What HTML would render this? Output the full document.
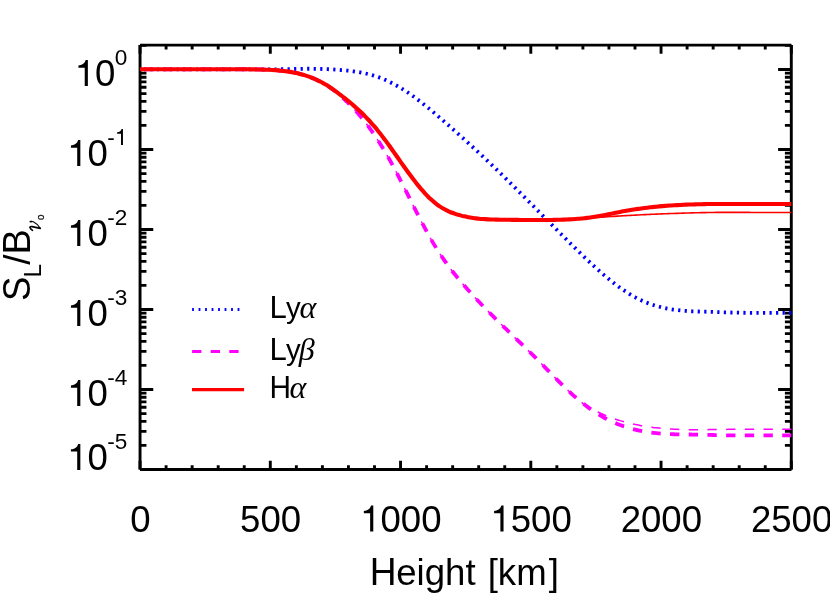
<!DOCTYPE html>
<html><head><meta charset="utf-8"><title>plot</title>
<style>
html,body{margin:0;padding:0;background:#fff;}
svg{display:block;}
text{font-family:"Liberation Sans",sans-serif;fill:#000;}
.tx{opacity:0.999;}
.it{font-family:"Liberation Serif",serif;font-style:italic;}
</style></head><body>
<svg width="830" height="593" viewBox="0 0 830 593">
<rect width="830" height="593" fill="#fff"/>
<g fill="none" stroke="#000" stroke-width="2.90">
<path d="M140.05 469.55v-8.70M140.05 45.10v8.70M166.10 469.55v-4.30M166.10 45.10v4.30M192.15 469.55v-4.30M192.15 45.10v4.30M218.20 469.55v-4.30M218.20 45.10v4.30M244.25 469.55v-4.30M244.25 45.10v4.30M270.30 469.55v-8.70M270.30 45.10v8.70M296.35 469.55v-4.30M296.35 45.10v4.30M322.40 469.55v-4.30M322.40 45.10v4.30M348.45 469.55v-4.30M348.45 45.10v4.30M374.50 469.55v-4.30M374.50 45.10v4.30M400.55 469.55v-8.70M400.55 45.10v8.70M426.60 469.55v-4.30M426.60 45.10v4.30M452.65 469.55v-4.30M452.65 45.10v4.30M478.70 469.55v-4.30M478.70 45.10v4.30M504.75 469.55v-4.30M504.75 45.10v4.30M530.80 469.55v-8.70M530.80 45.10v8.70M556.85 469.55v-4.30M556.85 45.10v4.30M582.90 469.55v-4.30M582.90 45.10v4.30M608.95 469.55v-4.30M608.95 45.10v4.30M635.00 469.55v-4.30M635.00 45.10v4.30M661.05 469.55v-8.70M661.05 45.10v8.70M687.10 469.55v-4.30M687.10 45.10v4.30M713.15 469.55v-4.30M713.15 45.10v4.30M739.20 469.55v-4.30M739.20 45.10v4.30M765.25 469.55v-4.30M765.25 45.10v4.30M791.30 469.55v-8.70M791.30 45.10v8.70M140.05 469.50h13.20M791.30 469.50h-13.20M140.05 445.42h6.40M791.30 445.42h-6.40M140.05 431.33h6.40M791.30 431.33h-6.40M140.05 421.34h6.40M791.30 421.34h-6.40M140.05 413.58h6.40M791.30 413.58h-6.40M140.05 407.25h6.40M791.30 407.25h-6.40M140.05 401.89h6.40M791.30 401.89h-6.40M140.05 397.25h6.40M791.30 397.25h-6.40M140.05 393.16h6.40M791.30 393.16h-6.40M140.05 389.50h13.20M791.30 389.50h-13.20M140.05 365.42h6.40M791.30 365.42h-6.40M140.05 351.33h6.40M791.30 351.33h-6.40M140.05 341.34h6.40M791.30 341.34h-6.40M140.05 333.58h6.40M791.30 333.58h-6.40M140.05 327.25h6.40M791.30 327.25h-6.40M140.05 321.89h6.40M791.30 321.89h-6.40M140.05 317.25h6.40M791.30 317.25h-6.40M140.05 313.16h6.40M791.30 313.16h-6.40M140.05 309.50h13.20M791.30 309.50h-13.20M140.05 285.42h6.40M791.30 285.42h-6.40M140.05 271.33h6.40M791.30 271.33h-6.40M140.05 261.34h6.40M791.30 261.34h-6.40M140.05 253.58h6.40M791.30 253.58h-6.40M140.05 247.25h6.40M791.30 247.25h-6.40M140.05 241.89h6.40M791.30 241.89h-6.40M140.05 237.25h6.40M791.30 237.25h-6.40M140.05 233.16h6.40M791.30 233.16h-6.40M140.05 229.50h13.20M791.30 229.50h-13.20M140.05 205.42h6.40M791.30 205.42h-6.40M140.05 191.33h6.40M791.30 191.33h-6.40M140.05 181.34h6.40M791.30 181.34h-6.40M140.05 173.58h6.40M791.30 173.58h-6.40M140.05 167.25h6.40M791.30 167.25h-6.40M140.05 161.89h6.40M791.30 161.89h-6.40M140.05 157.25h6.40M791.30 157.25h-6.40M140.05 153.16h6.40M791.30 153.16h-6.40M140.05 149.50h13.20M791.30 149.50h-13.20M140.05 125.42h6.40M791.30 125.42h-6.40M140.05 111.33h6.40M791.30 111.33h-6.40M140.05 101.34h6.40M791.30 101.34h-6.40M140.05 93.58h6.40M791.30 93.58h-6.40M140.05 87.25h6.40M791.30 87.25h-6.40M140.05 81.89h6.40M791.30 81.89h-6.40M140.05 77.25h6.40M791.30 77.25h-6.40M140.05 73.16h6.40M791.30 73.16h-6.40M140.05 69.50h13.20M791.30 69.50h-13.20M140.05 45.42h6.40M791.30 45.42h-6.40"/>
<path d="M140.05 45.10H791.30M140.05 469.55H791.30M140.05 45.10V469.55M791.30 45.10V469.55"/>
</g>
<g fill="none" stroke-linecap="butt" stroke-linejoin="round">
<path d="M791.30 312.85C790.80 312.85 789.30 312.85 788.30 312.85C787.30 312.85 786.30 312.85 785.30 312.85C784.30 312.85 783.30 312.85 782.30 312.85C781.30 312.85 780.30 312.85 779.30 312.85C778.30 312.85 777.29 312.85 776.29 312.85C775.29 312.85 774.29 312.85 773.29 312.85C772.29 312.85 771.29 312.85 770.29 312.85C769.29 312.85 768.29 312.85 767.29 312.85C766.29 312.85 765.29 312.85 764.29 312.85C763.29 312.85 762.29 312.85 761.29 312.85C760.29 312.85 759.29 312.85 758.29 312.85C757.29 312.85 756.29 312.85 755.29 312.84C754.29 312.84 753.29 312.84 752.29 312.83C751.28 312.83 750.28 312.82 749.28 312.81C748.28 312.81 747.28 312.80 746.28 312.79C745.28 312.78 744.28 312.76 743.28 312.75C742.28 312.74 741.28 312.72 740.28 312.71C739.28 312.69 738.28 312.67 737.28 312.65C736.28 312.63 735.28 312.61 734.28 312.59C733.28 312.56 732.28 312.54 731.28 312.51C730.28 312.48 729.28 312.46 728.28 312.43C727.28 312.40 726.28 312.37 725.27 312.33C724.27 312.30 723.27 312.27 722.27 312.24C721.27 312.21 720.27 312.17 719.27 312.14C718.27 312.10 717.27 312.07 716.27 312.04C715.27 312.00 714.27 311.97 713.27 311.94C712.27 311.91 711.27 311.88 710.27 311.85C709.27 311.82 708.27 311.79 707.27 311.76C706.27 311.74 705.27 311.71 704.27 311.68C703.27 311.65 702.27 311.63 701.27 311.60C700.27 311.58 699.26 311.55 698.26 311.52C697.26 311.49 696.26 311.46 695.26 311.42C694.26 311.38 693.26 311.34 692.26 311.30C691.26 311.25 690.26 311.20 689.26 311.14C688.26 311.08 687.26 311.02 686.26 310.95C685.26 310.87 684.26 310.80 683.26 310.71C682.26 310.63 681.26 310.53 680.26 310.43C679.26 310.33 678.26 310.22 677.26 310.10C676.26 309.98 675.26 309.85 674.26 309.71C673.25 309.58 672.25 309.43 671.25 309.27C670.25 309.11 669.25 308.94 668.25 308.75C667.25 308.57 666.25 308.38 665.25 308.17C664.25 307.96 663.25 307.74 662.25 307.51C661.25 307.27 660.25 307.03 659.25 306.77C658.25 306.51 657.25 306.23 656.25 305.94C655.25 305.65 654.25 305.34 653.25 305.02C652.25 304.70 651.25 304.36 650.25 304.01C649.25 303.65 648.25 303.28 647.24 302.89C646.24 302.50 645.24 302.10 644.24 301.67C643.24 301.24 642.24 300.80 641.24 300.34C640.24 299.87 639.24 299.39 638.24 298.89C637.24 298.39 636.24 297.86 635.24 297.32C634.24 296.78 633.24 296.22 632.24 295.64C631.24 295.06 630.24 294.46 629.24 293.84C628.24 293.23 627.24 292.59 626.24 291.94C625.24 291.29 624.24 290.63 623.24 289.94C622.24 289.26 621.23 288.56 620.23 287.84C619.23 287.13 618.23 286.40 617.23 285.66C616.23 284.91 615.23 284.15 614.23 283.38C613.23 282.61 612.23 281.82 611.23 281.02C610.23 280.22 609.23 279.41 608.23 278.59C607.23 277.77 606.23 276.93 605.23 276.08C604.23 275.24 603.23 274.38 602.23 273.51C601.23 272.65 600.23 271.77 599.23 270.88C598.23 269.99 597.23 269.10 596.23 268.19C595.22 267.28 594.22 266.37 593.22 265.45C592.22 264.53 591.22 263.60 590.22 262.66C589.22 261.72 588.22 260.78 587.22 259.83C586.22 258.88 585.22 257.92 584.22 256.96C583.22 256.00 582.22 255.03 581.22 254.06C580.22 253.09 579.22 252.11 578.22 251.13C577.22 250.15 576.22 249.17 575.22 248.18C574.22 247.20 573.22 246.21 572.22 245.22C571.22 244.23 570.22 243.23 569.21 242.24C568.21 241.24 567.21 240.25 566.21 239.25C565.21 238.25 564.21 237.25 563.21 236.25C562.21 235.24 561.21 234.24 560.21 233.24C559.21 232.23 558.21 231.23 557.21 230.22C556.21 229.21 555.21 228.21 554.21 227.20C553.21 226.19 552.21 225.18 551.21 224.17C550.21 223.16 549.21 222.15 548.21 221.14C547.21 220.13 546.21 219.12 545.21 218.10C544.21 217.09 543.20 216.08 542.20 215.07C541.20 214.06 540.20 213.04 539.20 212.03C538.20 211.02 537.20 210.01 536.20 209.00C535.20 207.98 534.20 206.97 533.20 205.96C532.20 204.95 531.20 203.94 530.20 202.93C529.20 201.92 528.20 200.91 527.20 199.91C526.20 198.90 525.20 197.89 524.20 196.89C523.20 195.88 522.20 194.88 521.20 193.87C520.20 192.87 519.20 191.87 518.20 190.87C517.19 189.87 516.19 188.87 515.19 187.87C514.19 186.87 513.19 185.88 512.19 184.88C511.19 183.89 510.19 182.90 509.19 181.91C508.19 180.92 507.19 179.93 506.19 178.95C505.19 177.96 504.19 176.98 503.19 176.00C502.19 175.02 501.19 174.04 500.19 173.07C499.19 172.09 498.19 171.12 497.19 170.15C496.19 169.18 495.19 168.21 494.19 167.25C493.19 166.29 492.19 165.33 491.18 164.37C490.18 163.41 489.18 162.46 488.18 161.51C487.18 160.56 486.18 159.61 485.18 158.67C484.18 157.72 483.18 156.78 482.18 155.84C481.18 154.90 480.18 153.97 479.18 153.04C478.18 152.10 477.18 151.18 476.18 150.25C475.18 149.32 474.18 148.40 473.18 147.48C472.18 146.56 471.18 145.64 470.18 144.73C469.18 143.81 468.18 142.90 467.18 141.99C466.18 141.08 465.17 140.17 464.17 139.27C463.17 138.37 462.17 137.47 461.17 136.57C460.17 135.67 459.17 134.77 458.17 133.88C457.17 132.98 456.17 132.09 455.17 131.20C454.17 130.31 453.17 129.43 452.17 128.54C451.17 127.66 450.17 126.78 449.17 125.90C448.17 125.02 447.17 124.14 446.17 123.27C445.17 122.39 444.17 121.52 443.17 120.65C442.17 119.78 441.17 118.91 440.17 118.04C439.16 117.18 438.16 116.31 437.16 115.46C436.16 114.60 435.16 113.75 434.16 112.90C433.16 112.05 432.16 111.21 431.16 110.37C430.16 109.53 429.16 108.70 428.16 107.88C427.16 107.06 426.16 106.24 425.16 105.44C424.16 104.63 423.16 103.83 422.16 103.04C421.16 102.25 420.16 101.47 419.16 100.70C418.16 99.94 417.16 99.18 416.16 98.43C415.16 97.68 414.16 96.95 413.15 96.23C412.15 95.51 411.15 94.80 410.15 94.10C409.15 93.40 408.15 92.72 407.15 92.05C406.15 91.39 405.15 90.73 404.15 90.10C403.15 89.46 402.15 88.84 401.15 88.23C400.15 87.62 399.15 87.03 398.15 86.46C397.15 85.88 396.15 85.32 395.15 84.78C394.15 84.23 393.15 83.70 392.15 83.19C391.15 82.68 390.15 82.18 389.15 81.70C388.15 81.22 387.14 80.76 386.14 80.31C385.14 79.87 384.14 79.44 383.14 79.02C382.14 78.61 381.14 78.22 380.14 77.84C379.14 77.46 378.14 77.10 377.14 76.76C376.14 76.41 375.14 76.09 374.14 75.78C373.14 75.47 372.14 75.17 371.14 74.90C370.14 74.62 369.14 74.35 368.14 74.10C367.14 73.85 366.14 73.62 365.14 73.40C364.14 73.17 363.14 72.96 362.14 72.76C361.13 72.57 360.13 72.38 359.13 72.21C358.13 72.03 357.13 71.87 356.13 71.71C355.13 71.56 354.13 71.42 353.13 71.28C352.13 71.14 351.13 71.02 350.13 70.90C349.13 70.78 348.13 70.67 347.13 70.57C346.13 70.46 345.13 70.36 344.13 70.27C343.13 70.18 342.13 70.10 341.13 70.02C340.13 69.93 339.13 69.86 338.13 69.79C337.13 69.71 336.13 69.65 335.12 69.58C334.12 69.52 333.12 69.46 332.12 69.40C331.12 69.35 330.12 69.30 329.12 69.25C328.12 69.20 327.12 69.16 326.12 69.11C325.12 69.07 324.12 69.04 323.12 69.00C322.12 68.97 321.12 68.94 320.12 68.91C319.12 68.88 318.12 68.86 317.12 68.84C316.12 68.81 315.12 68.79 314.12 68.78C313.12 68.77 312.12 68.76 311.12 68.75C310.12 68.75 309.11 68.75 308.11 68.75C307.11 68.75 306.11 68.76 305.11 68.78C304.11 68.79 303.11 68.80 302.11 68.82C301.11 68.84 300.11 68.86 299.11 68.88C298.11 68.91 297.11 68.93 296.11 68.95C295.11 68.98 294.11 69.00 293.11 69.03C292.11 69.05 291.11 69.07 290.11 69.10C289.11 69.12 288.11 69.14 287.11 69.16C286.11 69.18 285.11 69.19 284.11 69.21C283.10 69.23 282.10 69.24 281.10 69.25C280.10 69.26 279.10 69.27 278.10 69.28C277.10 69.28 276.10 69.29 275.10 69.29C274.10 69.30 273.10 69.30 272.10 69.30C271.10 69.30 270.10 69.30 269.10 69.30C268.10 69.30 267.10 69.30 266.10 69.30C265.10 69.30 264.10 69.30 263.10 69.30C262.10 69.30 261.10 69.30 260.10 69.30C259.10 69.30 258.10 69.30 257.09 69.30C256.09 69.30 255.09 69.30 254.09 69.30C253.09 69.30 252.09 69.30 251.09 69.30C250.09 69.30 249.09 69.30 248.09 69.30C247.09 69.30 246.09 69.30 245.09 69.30C244.09 69.30 243.09 69.30 242.09 69.30C241.09 69.30 240.09 69.30 239.09 69.30C238.09 69.30 237.09 69.30 236.09 69.30C235.09 69.30 234.09 69.30 233.09 69.30C232.09 69.30 231.08 69.30 230.08 69.30C229.08 69.30 228.08 69.30 227.08 69.30C226.08 69.30 225.08 69.30 224.08 69.30C223.08 69.30 222.08 69.30 221.08 69.30C220.08 69.30 219.08 69.30 218.08 69.30C217.08 69.30 216.08 69.30 215.08 69.30C214.08 69.30 213.08 69.30 212.08 69.30C211.08 69.30 210.08 69.30 209.08 69.30C208.08 69.30 207.08 69.30 206.08 69.30C205.07 69.30 204.07 69.30 203.07 69.30C202.07 69.30 201.07 69.30 200.07 69.30C199.07 69.30 198.07 69.30 197.07 69.30C196.07 69.30 195.07 69.30 194.07 69.30C193.07 69.30 192.07 69.30 191.07 69.30C190.07 69.30 189.07 69.30 188.07 69.30C187.07 69.30 186.07 69.30 185.07 69.30C184.07 69.30 183.07 69.30 182.07 69.30C181.07 69.30 180.07 69.30 179.06 69.30C178.06 69.30 177.06 69.30 176.06 69.30C175.06 69.30 174.06 69.30 173.06 69.30C172.06 69.30 171.06 69.30 170.06 69.30C169.06 69.30 168.06 69.30 167.06 69.30C166.06 69.30 165.06 69.30 164.06 69.30C163.06 69.30 162.06 69.30 161.06 69.30C160.06 69.30 159.06 69.30 158.06 69.30C157.06 69.30 156.06 69.30 155.06 69.30C154.06 69.30 153.05 69.30 152.05 69.30C151.05 69.30 150.05 69.30 149.05 69.30C148.05 69.30 147.05 69.30 146.05 69.30C145.05 69.30 144.05 69.30 143.05 69.30C142.05 69.30 140.55 69.30 140.05 69.30" stroke="#0000ff" stroke-width="3.8" stroke-dasharray="2.2 4.33"/>
<path d="M791.30 429.35C790.80 429.35 789.30 429.35 788.30 429.35C787.30 429.35 786.30 429.35 785.30 429.35C784.30 429.35 783.30 429.35 782.30 429.35C781.30 429.35 780.30 429.35 779.30 429.35C778.30 429.35 777.29 429.35 776.29 429.35C775.29 429.35 774.29 429.35 773.29 429.35C772.29 429.35 771.29 429.35 770.29 429.35C769.29 429.35 768.29 429.35 767.29 429.35C766.29 429.35 765.29 429.35 764.29 429.35C763.29 429.35 762.29 429.35 761.29 429.35C760.29 429.35 759.29 429.35 758.29 429.35C757.29 429.35 756.29 429.35 755.29 429.35C754.29 429.35 753.29 429.35 752.29 429.35C751.28 429.35 750.28 429.35 749.28 429.35C748.28 429.35 747.28 429.35 746.28 429.35C745.28 429.35 744.28 429.35 743.28 429.35C742.28 429.35 741.28 429.35 740.28 429.35C739.28 429.35 738.28 429.35 737.28 429.35C736.28 429.35 735.28 429.35 734.28 429.35C733.28 429.35 732.28 429.35 731.28 429.35C730.28 429.36 729.28 429.36 728.28 429.37C727.28 429.37 726.28 429.38 725.27 429.39C724.27 429.40 723.27 429.41 722.27 429.42C721.27 429.43 720.27 429.44 719.27 429.45C718.27 429.47 717.27 429.48 716.27 429.50C715.27 429.51 714.27 429.53 713.27 429.54C712.27 429.56 711.27 429.57 710.27 429.59C709.27 429.60 708.27 429.62 707.27 429.63C706.27 429.64 705.27 429.66 704.27 429.67C703.27 429.68 702.27 429.69 701.27 429.70C700.27 429.70 699.26 429.71 698.26 429.71C697.26 429.71 696.26 429.71 695.26 429.71C694.26 429.71 693.26 429.70 692.26 429.69C691.26 429.68 690.26 429.67 689.26 429.65C688.26 429.64 687.26 429.62 686.26 429.60C685.26 429.57 684.26 429.55 683.26 429.52C682.26 429.50 681.26 429.47 680.26 429.43C679.26 429.40 678.26 429.36 677.26 429.32C676.26 429.28 675.26 429.24 674.26 429.19C673.25 429.14 672.25 429.09 671.25 429.03C670.25 428.97 669.25 428.91 668.25 428.84C667.25 428.78 666.25 428.71 665.25 428.63C664.25 428.56 663.25 428.47 662.25 428.39C661.25 428.30 660.25 428.21 659.25 428.11C658.25 428.01 657.25 427.91 656.25 427.80C655.25 427.69 654.25 427.58 653.25 427.45C652.25 427.33 651.25 427.20 650.25 427.07C649.25 426.93 648.25 426.79 647.24 426.64C646.24 426.49 645.24 426.34 644.24 426.17C643.24 426.01 642.24 425.84 641.24 425.66C640.24 425.48 639.24 425.30 638.24 425.10C637.24 424.91 636.24 424.70 635.24 424.49C634.24 424.28 633.24 424.06 632.24 423.83C631.24 423.61 630.24 423.37 629.24 423.12C628.24 422.88 627.24 422.62 626.24 422.36C625.24 422.09 624.24 421.82 623.24 421.53C622.24 421.25 621.23 420.96 620.23 420.65C619.23 420.35 618.23 420.04 617.23 419.71C616.23 419.39 615.23 419.05 614.23 418.71C613.23 418.36 612.23 418.01 611.23 417.64C610.23 417.27 609.23 416.89 608.23 416.50C607.23 416.11 606.23 415.71 605.23 415.30C604.23 414.89 603.23 414.46 602.23 414.03C601.23 413.59 600.23 413.12 599.23 412.69C598.23 412.25 597.23 411.85 596.23 411.41C595.22 410.97 594.22 410.55 593.22 410.06C592.22 409.58 591.22 409.07 590.22 408.49C589.22 407.92 588.22 407.29 587.22 406.61C586.22 405.93 585.22 405.19 584.22 404.42C583.22 403.65 582.22 402.83 581.22 402.01C580.22 401.20 579.22 400.37 578.22 399.53C577.22 398.69 576.22 397.84 575.22 396.97C574.22 396.10 573.22 395.21 572.22 394.31C571.22 393.40 570.22 392.48 569.21 391.55C568.21 390.62 567.21 389.67 566.21 388.72C565.21 387.76 564.21 386.79 563.21 385.81C562.21 384.83 561.21 383.84 560.21 382.85C559.21 381.85 558.21 380.84 557.21 379.84C556.21 378.83 555.21 377.81 554.21 376.79C553.21 375.77 552.21 374.75 551.21 373.72C550.21 372.70 549.21 371.67 548.21 370.64C547.21 369.62 546.21 368.59 545.21 367.56C544.21 366.54 543.20 365.52 542.20 364.50C541.20 363.48 540.20 362.47 539.20 361.46C538.20 360.45 537.20 359.44 536.20 358.45C535.20 357.45 534.20 356.45 533.20 355.46C532.20 354.47 531.20 353.48 530.20 352.50C529.20 351.52 528.20 350.54 527.20 349.56C526.20 348.58 525.20 347.61 524.20 346.64C523.20 345.66 522.20 344.69 521.20 343.72C520.20 342.76 519.20 341.79 518.20 340.82C517.19 339.85 516.19 338.89 515.19 337.92C514.19 336.95 513.19 335.99 512.19 335.02C511.19 334.05 510.19 333.09 509.19 332.12C508.19 331.15 507.19 330.18 506.19 329.21C505.19 328.24 504.19 327.27 503.19 326.29C502.19 325.31 501.19 324.34 500.19 323.35C499.19 322.37 498.19 321.39 497.19 320.40C496.19 319.41 495.19 318.42 494.19 317.42C493.19 316.43 492.19 315.42 491.18 314.42C490.18 313.41 489.18 312.40 488.18 311.38C487.18 310.37 486.18 309.35 485.18 308.32C484.18 307.29 483.18 306.25 482.18 305.21C481.18 304.17 480.18 303.12 479.18 302.06C478.18 301.01 477.18 299.94 476.18 298.87C475.18 297.80 474.18 296.71 473.18 295.62C472.18 294.53 471.18 293.44 470.18 292.33C469.18 291.22 468.18 290.10 467.18 288.97C466.18 287.84 465.17 286.71 464.17 285.56C463.17 284.40 462.17 283.24 461.17 282.06C460.17 280.89 459.17 279.69 458.17 278.48C457.17 277.27 456.17 276.04 455.17 274.79C454.17 273.54 453.17 272.28 452.17 270.98C451.17 269.69 450.17 268.37 449.17 267.03C448.17 265.69 447.17 264.32 446.17 262.93C445.17 261.53 444.17 260.11 443.17 258.65C442.17 257.19 441.17 255.71 440.17 254.18C439.16 252.66 438.16 251.11 437.16 249.52C436.16 247.92 435.16 246.30 434.16 244.63C433.16 242.96 432.16 241.25 431.16 239.51C430.16 237.77 429.16 235.99 428.16 234.19C427.16 232.38 426.16 230.54 425.16 228.68C424.16 226.81 423.16 224.92 422.16 223.01C421.16 221.11 420.16 219.17 419.16 217.23C418.16 215.28 417.16 213.32 416.16 211.35C415.16 209.38 414.16 207.39 413.15 205.40C412.15 203.41 411.15 201.41 410.15 199.42C409.15 197.42 408.15 195.42 407.15 193.43C406.15 191.43 405.15 189.44 404.15 187.45C403.15 185.47 402.15 183.49 401.15 181.53C400.15 179.57 399.15 177.62 398.15 175.69C397.15 173.76 396.15 171.84 395.15 169.95C394.15 168.06 393.15 166.19 392.15 164.35C391.15 162.51 390.15 160.70 389.15 158.92C388.15 157.14 387.14 155.39 386.14 153.67C385.14 151.96 384.14 150.27 383.14 148.62C382.14 146.96 381.14 145.34 380.14 143.75C379.14 142.16 378.14 140.60 377.14 139.07C376.14 137.54 375.14 136.04 374.14 134.57C373.14 133.10 372.14 131.66 371.14 130.25C370.14 128.84 369.14 127.46 368.14 126.11C367.14 124.76 366.14 123.44 365.14 122.15C364.14 120.85 363.14 119.59 362.14 118.35C361.13 117.12 360.13 115.91 359.13 114.73C358.13 113.55 357.13 112.40 356.13 111.27C355.13 110.15 354.13 109.05 353.13 107.98C352.13 106.91 351.13 105.87 350.13 104.85C349.13 103.83 348.13 102.84 347.13 101.88C346.13 100.91 345.13 99.98 344.13 99.05C343.13 98.13 342.13 97.21 341.13 96.31C340.13 95.42 339.13 94.55 338.13 93.70C337.13 92.85 336.13 92.03 335.12 91.24C334.12 90.45 333.12 89.68 332.12 88.95C331.12 88.21 330.12 87.50 329.12 86.82C328.12 86.13 327.12 85.48 326.12 84.86C325.12 84.24 324.12 83.65 323.12 83.09C322.12 82.53 321.12 82.00 320.12 81.49C319.12 80.98 318.12 80.49 317.12 80.03C316.12 79.56 315.12 79.12 314.12 78.69C313.12 78.27 312.12 77.86 311.12 77.48C310.12 77.09 309.11 76.73 308.11 76.38C307.11 76.03 306.11 75.70 305.11 75.39C304.11 75.07 303.11 74.78 302.11 74.50C301.11 74.22 300.11 73.96 299.11 73.71C298.11 73.46 297.11 73.23 296.11 73.01C295.11 72.79 294.11 72.59 293.11 72.40C292.11 72.20 291.11 72.03 290.11 71.86C289.11 71.69 288.11 71.54 287.11 71.40C286.11 71.26 285.11 71.12 284.11 71.00C283.10 70.88 282.10 70.77 281.10 70.67C280.10 70.56 279.10 70.47 278.10 70.39C277.10 70.30 276.10 70.23 275.10 70.15C274.10 70.08 273.10 70.02 272.10 69.97C271.10 69.91 270.10 69.86 269.10 69.81C268.10 69.77 267.10 69.73 266.10 69.69C265.10 69.65 264.10 69.62 263.10 69.59C262.10 69.56 261.10 69.54 260.10 69.51C259.10 69.49 258.10 69.47 257.09 69.44C256.09 69.42 255.09 69.40 254.09 69.38C253.09 69.37 252.09 69.35 251.09 69.34C250.09 69.32 249.09 69.31 248.09 69.30C247.09 69.29 246.09 69.28 245.09 69.27C244.09 69.27 243.09 69.26 242.09 69.26C241.09 69.26 240.09 69.25 239.09 69.25C238.09 69.25 237.09 69.25 236.09 69.25C235.09 69.26 234.09 69.26 233.09 69.26C232.09 69.26 231.08 69.27 230.08 69.27C229.08 69.27 228.08 69.28 227.08 69.28C226.08 69.28 225.08 69.28 224.08 69.29C223.08 69.29 222.08 69.29 221.08 69.29C220.08 69.30 219.08 69.30 218.08 69.30C217.08 69.30 216.08 69.30 215.08 69.30C214.08 69.30 213.08 69.30 212.08 69.30C211.08 69.30 210.08 69.30 209.08 69.30C208.08 69.30 207.08 69.30 206.08 69.30C205.07 69.30 204.07 69.30 203.07 69.30C202.07 69.30 201.07 69.30 200.07 69.30C199.07 69.30 198.07 69.30 197.07 69.30C196.07 69.30 195.07 69.30 194.07 69.30C193.07 69.30 192.07 69.30 191.07 69.30C190.07 69.30 189.07 69.30 188.07 69.30C187.07 69.30 186.07 69.30 185.07 69.30C184.07 69.30 183.07 69.30 182.07 69.30C181.07 69.30 180.07 69.30 179.06 69.30C178.06 69.30 177.06 69.30 176.06 69.30C175.06 69.30 174.06 69.30 173.06 69.30C172.06 69.30 171.06 69.30 170.06 69.30C169.06 69.30 168.06 69.30 167.06 69.30C166.06 69.30 165.06 69.30 164.06 69.30C163.06 69.30 162.06 69.30 161.06 69.30C160.06 69.30 159.06 69.30 158.06 69.30C157.06 69.30 156.06 69.30 155.06 69.30C154.06 69.30 153.05 69.30 152.05 69.30C151.05 69.30 150.05 69.30 149.05 69.30C148.05 69.30 147.05 69.30 146.05 69.30C145.05 69.30 144.05 69.30 143.05 69.30C142.05 69.30 140.55 69.30 140.05 69.30" stroke="#ff00ff" stroke-width="1.5" stroke-dasharray="9.35 9.35" stroke-dashoffset="0.25"/>
<path d="M791.30 435.45C790.80 435.45 789.30 435.45 788.30 435.45C787.30 435.45 786.30 435.45 785.30 435.45C784.30 435.45 783.30 435.45 782.30 435.45C781.30 435.45 780.30 435.45 779.30 435.45C778.30 435.45 777.29 435.45 776.29 435.45C775.29 435.45 774.29 435.45 773.29 435.45C772.29 435.45 771.29 435.45 770.29 435.45C769.29 435.45 768.29 435.45 767.29 435.45C766.29 435.45 765.29 435.45 764.29 435.45C763.29 435.45 762.29 435.45 761.29 435.45C760.29 435.45 759.29 435.45 758.29 435.45C757.29 435.45 756.29 435.45 755.29 435.45C754.29 435.45 753.29 435.45 752.29 435.45C751.28 435.45 750.28 435.45 749.28 435.45C748.28 435.45 747.28 435.45 746.28 435.45C745.28 435.45 744.28 435.45 743.28 435.45C742.28 435.45 741.28 435.44 740.28 435.44C739.28 435.44 738.28 435.43 737.28 435.43C736.28 435.42 735.28 435.41 734.28 435.40C733.28 435.39 732.28 435.38 731.28 435.37C730.28 435.35 729.28 435.34 728.28 435.32C727.28 435.31 726.28 435.29 725.27 435.27C724.27 435.25 723.27 435.23 722.27 435.21C721.27 435.19 720.27 435.17 719.27 435.14C718.27 435.12 717.27 435.09 716.27 435.07C715.27 435.04 714.27 435.02 713.27 434.99C712.27 434.96 711.27 434.93 710.27 434.91C709.27 434.88 708.27 434.85 707.27 434.83C706.27 434.80 705.27 434.77 704.27 434.75C703.27 434.72 702.27 434.70 701.27 434.68C700.27 434.65 699.26 434.63 698.26 434.61C697.26 434.59 696.26 434.58 695.26 434.56C694.26 434.55 693.26 434.54 692.26 434.53C691.26 434.52 690.26 434.51 689.26 434.50C688.26 434.50 687.26 434.49 686.26 434.48C685.26 434.47 684.26 434.46 683.26 434.45C682.26 434.44 681.26 434.42 680.26 434.41C679.26 434.39 678.26 434.37 677.26 434.34C676.26 434.32 675.26 434.29 674.26 434.26C673.25 434.23 672.25 434.20 671.25 434.16C670.25 434.12 669.25 434.08 668.25 434.03C667.25 433.98 666.25 433.92 665.25 433.86C664.25 433.80 663.25 433.74 662.25 433.66C661.25 433.59 660.25 433.51 659.25 433.42C658.25 433.34 657.25 433.24 656.25 433.14C655.25 433.04 654.25 432.93 653.25 432.82C652.25 432.70 651.25 432.57 650.25 432.44C649.25 432.30 648.25 432.16 647.24 432.01C646.24 431.85 645.24 431.69 644.24 431.52C643.24 431.35 642.24 431.16 641.24 430.97C640.24 430.77 639.24 430.57 638.24 430.35C637.24 430.14 636.24 429.91 635.24 429.67C634.24 429.43 633.24 429.18 632.24 428.91C631.24 428.65 630.24 428.37 629.24 428.08C628.24 427.79 627.24 427.48 626.24 427.16C625.24 426.84 624.24 426.51 623.24 426.17C622.24 425.82 621.23 425.46 620.23 425.08C619.23 424.70 618.23 424.31 617.23 423.90C616.23 423.50 615.23 423.07 614.23 422.63C613.23 422.19 612.23 421.73 611.23 421.26C610.23 420.79 609.23 420.30 608.23 419.79C607.23 419.28 606.23 418.75 605.23 418.21C604.23 417.67 603.23 417.11 602.23 416.54C601.23 415.96 600.23 415.37 599.23 414.76C598.23 414.15 597.23 413.52 596.23 412.88C595.22 412.24 594.22 411.58 593.22 410.90C592.22 410.23 591.22 409.53 590.22 408.82C589.22 408.12 588.22 407.39 587.22 406.65C586.22 405.91 585.22 405.15 584.22 404.37C583.22 403.60 582.22 402.81 581.22 402.00C580.22 401.20 579.22 400.37 578.22 399.53C577.22 398.69 576.22 397.84 575.22 396.97C574.22 396.10 573.22 395.21 572.22 394.31C571.22 393.40 570.22 392.48 569.21 391.55C568.21 390.62 567.21 389.67 566.21 388.72C565.21 387.76 564.21 386.79 563.21 385.81C562.21 384.83 561.21 383.84 560.21 382.85C559.21 381.85 558.21 380.84 557.21 379.84C556.21 378.83 555.21 377.81 554.21 376.79C553.21 375.77 552.21 374.75 551.21 373.72C550.21 372.70 549.21 371.67 548.21 370.64C547.21 369.62 546.21 368.59 545.21 367.56C544.21 366.54 543.20 365.52 542.20 364.50C541.20 363.48 540.20 362.47 539.20 361.46C538.20 360.45 537.20 359.44 536.20 358.45C535.20 357.45 534.20 356.45 533.20 355.46C532.20 354.47 531.20 353.48 530.20 352.50C529.20 351.52 528.20 350.54 527.20 349.56C526.20 348.58 525.20 347.61 524.20 346.64C523.20 345.66 522.20 344.69 521.20 343.72C520.20 342.76 519.20 341.79 518.20 340.82C517.19 339.85 516.19 338.89 515.19 337.92C514.19 336.95 513.19 335.99 512.19 335.02C511.19 334.05 510.19 333.09 509.19 332.12C508.19 331.15 507.19 330.18 506.19 329.21C505.19 328.24 504.19 327.27 503.19 326.29C502.19 325.31 501.19 324.34 500.19 323.35C499.19 322.37 498.19 321.39 497.19 320.40C496.19 319.41 495.19 318.42 494.19 317.42C493.19 316.43 492.19 315.42 491.18 314.42C490.18 313.41 489.18 312.40 488.18 311.38C487.18 310.37 486.18 309.35 485.18 308.32C484.18 307.29 483.18 306.25 482.18 305.21C481.18 304.17 480.18 303.12 479.18 302.06C478.18 301.01 477.18 299.94 476.18 298.87C475.18 297.80 474.18 296.71 473.18 295.62C472.18 294.53 471.18 293.44 470.18 292.33C469.18 291.22 468.18 290.10 467.18 288.97C466.18 287.84 465.17 286.71 464.17 285.56C463.17 284.40 462.17 283.24 461.17 282.06C460.17 280.89 459.17 279.69 458.17 278.48C457.17 277.27 456.17 276.04 455.17 274.79C454.17 273.54 453.17 272.28 452.17 270.98C451.17 269.69 450.17 268.37 449.17 267.03C448.17 265.69 447.17 264.32 446.17 262.93C445.17 261.53 444.17 260.11 443.17 258.65C442.17 257.19 441.17 255.71 440.17 254.18C439.16 252.66 438.16 251.11 437.16 249.52C436.16 247.92 435.16 246.30 434.16 244.63C433.16 242.96 432.16 241.25 431.16 239.51C430.16 237.77 429.16 235.99 428.16 234.19C427.16 232.38 426.16 230.54 425.16 228.68C424.16 226.81 423.16 224.92 422.16 223.01C421.16 221.11 420.16 219.17 419.16 217.23C418.16 215.28 417.16 213.32 416.16 211.35C415.16 209.38 414.16 207.39 413.15 205.40C412.15 203.41 411.15 201.41 410.15 199.42C409.15 197.42 408.15 195.42 407.15 193.43C406.15 191.43 405.15 189.44 404.15 187.45C403.15 185.47 402.15 183.49 401.15 181.53C400.15 179.57 399.15 177.62 398.15 175.69C397.15 173.76 396.15 171.84 395.15 169.95C394.15 168.06 393.15 166.19 392.15 164.35C391.15 162.51 390.15 160.70 389.15 158.92C388.15 157.14 387.14 155.39 386.14 153.67C385.14 151.96 384.14 150.27 383.14 148.62C382.14 146.96 381.14 145.34 380.14 143.75C379.14 142.16 378.14 140.60 377.14 139.07C376.14 137.54 375.14 136.04 374.14 134.57C373.14 133.10 372.14 131.66 371.14 130.25C370.14 128.84 369.14 127.46 368.14 126.11C367.14 124.76 366.14 123.44 365.14 122.15C364.14 120.85 363.14 119.59 362.14 118.35C361.13 117.12 360.13 115.91 359.13 114.73C358.13 113.55 357.13 112.40 356.13 111.27C355.13 110.15 354.13 109.05 353.13 107.98C352.13 106.91 351.13 105.87 350.13 104.85C349.13 103.83 348.13 102.84 347.13 101.88C346.13 100.91 345.13 99.98 344.13 99.05C343.13 98.13 342.13 97.21 341.13 96.31C340.13 95.42 339.13 94.55 338.13 93.70C337.13 92.85 336.13 92.03 335.12 91.24C334.12 90.45 333.12 89.68 332.12 88.95C331.12 88.21 330.12 87.50 329.12 86.82C328.12 86.13 327.12 85.48 326.12 84.86C325.12 84.24 324.12 83.65 323.12 83.09C322.12 82.53 321.12 82.00 320.12 81.49C319.12 80.98 318.12 80.49 317.12 80.03C316.12 79.56 315.12 79.12 314.12 78.69C313.12 78.27 312.12 77.86 311.12 77.48C310.12 77.09 309.11 76.73 308.11 76.38C307.11 76.03 306.11 75.70 305.11 75.39C304.11 75.07 303.11 74.78 302.11 74.50C301.11 74.22 300.11 73.96 299.11 73.71C298.11 73.46 297.11 73.23 296.11 73.01C295.11 72.79 294.11 72.59 293.11 72.40C292.11 72.20 291.11 72.03 290.11 71.86C289.11 71.69 288.11 71.54 287.11 71.40C286.11 71.26 285.11 71.12 284.11 71.00C283.10 70.88 282.10 70.77 281.10 70.67C280.10 70.56 279.10 70.47 278.10 70.39C277.10 70.30 276.10 70.23 275.10 70.15C274.10 70.08 273.10 70.02 272.10 69.97C271.10 69.91 270.10 69.86 269.10 69.81C268.10 69.77 267.10 69.73 266.10 69.69C265.10 69.65 264.10 69.62 263.10 69.59C262.10 69.56 261.10 69.54 260.10 69.51C259.10 69.49 258.10 69.47 257.09 69.44C256.09 69.42 255.09 69.40 254.09 69.38C253.09 69.37 252.09 69.35 251.09 69.34C250.09 69.32 249.09 69.31 248.09 69.30C247.09 69.29 246.09 69.28 245.09 69.27C244.09 69.27 243.09 69.26 242.09 69.26C241.09 69.26 240.09 69.25 239.09 69.25C238.09 69.25 237.09 69.25 236.09 69.25C235.09 69.26 234.09 69.26 233.09 69.26C232.09 69.26 231.08 69.27 230.08 69.27C229.08 69.27 228.08 69.28 227.08 69.28C226.08 69.28 225.08 69.28 224.08 69.29C223.08 69.29 222.08 69.29 221.08 69.29C220.08 69.30 219.08 69.30 218.08 69.30C217.08 69.30 216.08 69.30 215.08 69.30C214.08 69.30 213.08 69.30 212.08 69.30C211.08 69.30 210.08 69.30 209.08 69.30C208.08 69.30 207.08 69.30 206.08 69.30C205.07 69.30 204.07 69.30 203.07 69.30C202.07 69.30 201.07 69.30 200.07 69.30C199.07 69.30 198.07 69.30 197.07 69.30C196.07 69.30 195.07 69.30 194.07 69.30C193.07 69.30 192.07 69.30 191.07 69.30C190.07 69.30 189.07 69.30 188.07 69.30C187.07 69.30 186.07 69.30 185.07 69.30C184.07 69.30 183.07 69.30 182.07 69.30C181.07 69.30 180.07 69.30 179.06 69.30C178.06 69.30 177.06 69.30 176.06 69.30C175.06 69.30 174.06 69.30 173.06 69.30C172.06 69.30 171.06 69.30 170.06 69.30C169.06 69.30 168.06 69.30 167.06 69.30C166.06 69.30 165.06 69.30 164.06 69.30C163.06 69.30 162.06 69.30 161.06 69.30C160.06 69.30 159.06 69.30 158.06 69.30C157.06 69.30 156.06 69.30 155.06 69.30C154.06 69.30 153.05 69.30 152.05 69.30C151.05 69.30 150.05 69.30 149.05 69.30C148.05 69.30 147.05 69.30 146.05 69.30C145.05 69.30 144.05 69.30 143.05 69.30C142.05 69.30 140.55 69.30 140.05 69.30" stroke="#ff00ff" stroke-width="3.8" stroke-dasharray="9.35 9.35" stroke-dashoffset="0.25"/>
<path d="M560.00 219.75C560.50 219.73 562.00 219.68 563.00 219.65C564.01 219.61 565.01 219.57 566.01 219.53C567.01 219.49 568.01 219.45 569.01 219.40C570.01 219.36 571.01 219.31 572.02 219.25C573.02 219.20 574.02 219.13 575.02 219.07C576.02 219.00 577.02 218.93 578.02 218.85C579.02 218.78 580.03 218.70 581.03 218.63C582.03 218.55 583.03 218.48 584.03 218.40C585.03 218.33 586.03 218.26 587.04 218.19C588.04 218.12 589.04 218.05 590.04 217.98C591.04 217.90 592.04 217.83 593.04 217.76C594.04 217.68 595.05 217.61 596.05 217.54C597.05 217.47 598.05 217.40 599.05 217.33C600.05 217.26 601.05 217.19 602.05 217.12C603.06 217.05 604.06 216.98 605.06 216.92C606.06 216.85 607.06 216.78 608.06 216.72C609.06 216.65 610.06 216.59 611.07 216.52C612.07 216.46 613.07 216.39 614.07 216.33C615.07 216.27 616.07 216.21 617.07 216.15C618.08 216.08 619.08 216.02 620.08 215.96C621.08 215.90 622.08 215.85 623.08 215.79C624.08 215.73 625.08 215.67 626.09 215.61C627.09 215.56 628.09 215.50 629.09 215.45C630.09 215.39 631.09 215.34 632.09 215.28C633.09 215.23 634.10 215.17 635.10 215.12C636.10 215.07 637.10 215.02 638.10 214.97C639.10 214.91 640.10 214.86 641.11 214.81C642.11 214.76 643.11 214.72 644.11 214.67C645.11 214.62 646.11 214.57 647.11 214.52C648.11 214.48 649.12 214.43 650.12 214.39C651.12 214.34 652.12 214.30 653.12 214.25C654.12 214.21 655.12 214.16 656.12 214.12C657.13 214.08 658.13 214.04 659.13 214.00C660.13 213.95 661.13 213.91 662.13 213.87C663.13 213.83 664.14 213.79 665.14 213.76C666.14 213.72 667.14 213.68 668.14 213.64C669.14 213.61 670.14 213.57 671.14 213.53C672.15 213.50 673.15 213.46 674.15 213.43C675.15 213.40 676.15 213.36 677.15 213.33C678.15 213.30 679.15 213.26 680.16 213.23C681.16 213.20 682.16 213.17 683.16 213.14C684.16 213.11 685.16 213.08 686.16 213.05C687.16 213.02 688.17 213.00 689.17 212.97C690.17 212.94 691.17 212.91 692.17 212.89C693.17 212.86 694.17 212.84 695.18 212.81C696.18 212.79 697.18 212.76 698.18 212.74C699.18 212.72 700.18 212.70 701.18 212.67C702.18 212.65 703.19 212.63 704.19 212.61C705.19 212.59 706.19 212.57 707.19 212.55C708.19 212.53 709.19 212.51 710.19 212.49C711.20 212.48 712.20 212.46 713.20 212.45C714.20 212.43 715.20 212.42 716.20 212.41C717.20 212.40 718.21 212.39 719.21 212.38C720.21 212.37 721.21 212.36 722.21 212.36C723.21 212.35 724.21 212.35 725.21 212.35C726.22 212.34 727.22 212.34 728.22 212.34C729.22 212.34 730.22 212.34 731.22 212.34C732.22 212.35 733.22 212.35 734.23 212.35C735.23 212.36 736.23 212.36 737.23 212.36C738.23 212.37 739.23 212.37 740.23 212.38C741.24 212.38 742.24 212.39 743.24 212.39C744.24 212.40 745.24 212.41 746.24 212.41C747.24 212.42 748.24 212.42 749.25 212.42C750.25 212.43 751.25 212.43 752.25 212.44C753.25 212.44 754.25 212.44 755.25 212.44C756.25 212.45 757.26 212.45 758.26 212.45C759.26 212.45 760.26 212.45 761.26 212.45C762.26 212.45 763.26 212.45 764.26 212.45C765.27 212.45 766.27 212.45 767.27 212.45C768.27 212.45 769.27 212.45 770.27 212.45C771.27 212.45 772.28 212.45 773.28 212.45C774.28 212.45 775.28 212.45 776.28 212.45C777.28 212.45 778.28 212.45 779.28 212.45C780.29 212.45 781.29 212.45 782.29 212.45C783.29 212.45 784.29 212.45 785.29 212.45C786.29 212.45 787.29 212.45 788.30 212.45C789.30 212.45 790.80 212.45 791.30 212.45" stroke="#ff0000" stroke-width="1.6"/>
<path d="M140.05 69.30C140.55 69.30 142.05 69.30 143.05 69.30C144.05 69.30 145.05 69.30 146.05 69.30C147.05 69.30 148.05 69.30 149.05 69.30C150.05 69.30 151.05 69.30 152.05 69.30C153.05 69.30 154.06 69.30 155.06 69.30C156.06 69.30 157.06 69.30 158.06 69.30C159.06 69.30 160.06 69.30 161.06 69.30C162.06 69.30 163.06 69.30 164.06 69.30C165.06 69.30 166.06 69.30 167.06 69.30C168.06 69.30 169.06 69.30 170.06 69.30C171.06 69.30 172.06 69.30 173.06 69.30C174.06 69.30 175.06 69.30 176.06 69.30C177.06 69.30 178.06 69.30 179.06 69.30C180.07 69.30 181.07 69.30 182.07 69.30C183.07 69.30 184.07 69.30 185.07 69.30C186.07 69.30 187.07 69.30 188.07 69.30C189.07 69.30 190.07 69.30 191.07 69.30C192.07 69.30 193.07 69.30 194.07 69.30C195.07 69.30 196.07 69.30 197.07 69.30C198.07 69.30 199.07 69.30 200.07 69.30C201.07 69.30 202.07 69.30 203.07 69.30C204.07 69.30 205.07 69.30 206.08 69.30C207.08 69.30 208.08 69.30 209.08 69.30C210.08 69.30 211.08 69.30 212.08 69.30C213.08 69.30 214.08 69.30 215.08 69.30C216.08 69.30 217.08 69.30 218.08 69.30C219.08 69.30 220.08 69.30 221.08 69.29C222.08 69.29 223.08 69.29 224.08 69.29C225.08 69.28 226.08 69.28 227.08 69.28C228.08 69.28 229.08 69.27 230.08 69.27C231.08 69.27 232.09 69.26 233.09 69.26C234.09 69.26 235.09 69.26 236.09 69.25C237.09 69.25 238.09 69.25 239.09 69.25C240.09 69.25 241.09 69.26 242.09 69.26C243.09 69.26 244.09 69.27 245.09 69.27C246.09 69.28 247.09 69.29 248.09 69.30C249.09 69.31 250.09 69.32 251.09 69.34C252.09 69.35 253.09 69.37 254.09 69.38C255.09 69.40 256.09 69.42 257.09 69.44C258.10 69.47 259.10 69.49 260.10 69.51C261.10 69.54 262.10 69.56 263.10 69.59C264.10 69.62 265.10 69.65 266.10 69.69C267.10 69.73 268.10 69.77 269.10 69.81C270.10 69.86 271.10 69.91 272.10 69.97C273.10 70.02 274.10 70.08 275.10 70.15C276.10 70.23 277.10 70.30 278.10 70.39C279.10 70.47 280.10 70.56 281.10 70.67C282.10 70.77 283.10 70.88 284.11 71.00C285.11 71.12 286.11 71.26 287.11 71.40C288.11 71.54 289.11 71.69 290.11 71.86C291.11 72.03 292.11 72.20 293.11 72.40C294.11 72.59 295.11 72.79 296.11 73.01C297.11 73.23 298.11 73.46 299.11 73.71C300.11 73.96 301.11 74.22 302.11 74.50C303.11 74.78 304.11 75.07 305.11 75.39C306.11 75.70 307.11 76.03 308.11 76.38C309.11 76.73 310.12 77.09 311.12 77.48C312.12 77.86 313.12 78.27 314.12 78.69C315.12 79.12 316.12 79.56 317.12 80.03C318.12 80.49 319.12 80.98 320.12 81.49C321.12 82.00 322.12 82.53 323.12 83.08C324.12 83.64 325.12 84.22 326.12 84.82C327.12 85.42 328.12 86.05 329.12 86.69C330.12 87.34 331.12 88.01 332.12 88.70C333.12 89.38 334.12 90.09 335.12 90.81C336.13 91.53 337.13 92.27 338.13 93.02C339.13 93.77 340.13 94.54 341.13 95.31C342.13 96.09 343.13 96.87 344.13 97.67C345.13 98.46 346.13 99.26 347.13 100.07C348.13 100.88 349.13 101.70 350.13 102.54C351.13 103.37 352.13 104.22 353.13 105.08C354.13 105.95 355.13 106.83 356.13 107.72C357.13 108.62 358.13 109.53 359.13 110.47C360.13 111.40 361.13 112.36 362.14 113.34C363.14 114.32 364.14 115.32 365.14 116.34C366.14 117.37 367.14 118.41 368.14 119.48C369.14 120.56 370.14 121.65 371.14 122.77C372.14 123.89 373.14 125.03 374.14 126.20C375.14 127.37 376.14 128.56 377.14 129.78C378.14 130.99 379.14 132.24 380.14 133.50C381.14 134.77 382.14 136.07 383.14 137.39C384.14 138.70 385.14 140.05 386.14 141.41C387.14 142.77 388.15 144.15 389.15 145.55C390.15 146.94 391.15 148.35 392.15 149.76C393.15 151.17 394.15 152.60 395.15 154.02C396.15 155.45 397.15 156.88 398.15 158.30C399.15 159.72 400.15 161.15 401.15 162.57C402.15 163.99 403.15 165.40 404.15 166.80C405.15 168.21 406.15 169.60 407.15 170.98C408.15 172.36 409.15 173.73 410.15 175.08C411.15 176.43 412.15 177.77 413.15 179.08C414.16 180.39 415.16 181.69 416.16 182.95C417.16 184.22 418.16 185.46 419.16 186.67C420.16 187.88 421.16 189.07 422.16 190.22C423.16 191.37 424.16 192.49 425.16 193.57C426.16 194.65 427.16 195.69 428.16 196.70C429.16 197.70 430.16 198.66 431.16 199.58C432.16 200.50 433.16 201.37 434.16 202.20C435.16 203.03 436.16 203.81 437.16 204.54C438.16 205.28 439.16 205.98 440.17 206.63C441.17 207.29 442.17 207.90 443.17 208.48C444.17 209.06 445.17 209.60 446.17 210.11C447.17 210.61 448.17 211.09 449.17 211.53C450.17 211.98 451.17 212.39 452.17 212.78C453.17 213.17 454.17 213.53 455.17 213.86C456.17 214.20 457.17 214.51 458.17 214.80C459.17 215.10 460.17 215.36 461.17 215.62C462.17 215.87 463.17 216.11 464.17 216.33C465.17 216.55 466.18 216.76 467.18 216.95C468.18 217.15 469.18 217.32 470.18 217.49C471.18 217.66 472.18 217.81 473.18 217.95C474.18 218.10 475.18 218.22 476.18 218.34C477.18 218.46 478.18 218.57 479.18 218.67C480.18 218.77 481.18 218.86 482.18 218.94C483.18 219.02 484.18 219.09 485.18 219.16C486.18 219.23 487.18 219.28 488.18 219.33C489.18 219.38 490.18 219.43 491.18 219.47C492.19 219.51 493.19 219.54 494.19 219.57C495.19 219.60 496.19 219.62 497.19 219.65C498.19 219.67 499.19 219.69 500.19 219.70C501.19 219.72 502.19 219.73 503.19 219.74C504.19 219.76 505.19 219.77 506.19 219.78C507.19 219.79 508.19 219.80 509.19 219.82C510.19 219.83 511.19 219.84 512.19 219.85C513.19 219.86 514.19 219.87 515.19 219.89C516.19 219.90 517.19 219.91 518.20 219.92C519.20 219.93 520.20 219.94 521.20 219.95C522.20 219.96 523.20 219.97 524.20 219.98C525.20 219.99 526.20 220.00 527.20 220.00C528.20 220.01 529.20 220.02 530.20 220.02C531.20 220.03 532.20 220.03 533.20 220.04C534.20 220.04 535.20 220.04 536.20 220.04C537.20 220.05 538.20 220.05 539.20 220.04C540.20 220.04 541.20 220.04 542.20 220.03C543.20 220.03 544.21 220.02 545.21 220.01C546.21 220.01 547.21 220.00 548.21 219.98C549.21 219.97 550.21 219.96 551.21 219.94C552.21 219.93 553.21 219.91 554.21 219.89C555.21 219.87 556.21 219.85 557.21 219.82C558.21 219.80 559.21 219.77 560.21 219.74C561.21 219.71 562.21 219.68 563.21 219.64C564.21 219.60 565.21 219.57 566.21 219.52C567.21 219.48 568.21 219.43 569.21 219.38C570.22 219.33 571.22 219.27 572.22 219.21C573.22 219.15 574.22 219.09 575.22 219.02C576.22 218.95 577.22 218.87 578.22 218.79C579.22 218.71 580.22 218.62 581.22 218.52C582.22 218.43 583.22 218.33 584.22 218.22C585.22 218.12 586.22 218.00 587.22 217.88C588.22 217.76 589.22 217.63 590.22 217.49C591.22 217.36 592.22 217.21 593.22 217.06C594.22 216.91 595.22 216.75 596.23 216.58C597.23 216.41 598.23 216.24 599.23 216.06C600.23 215.88 601.23 215.69 602.23 215.50C603.23 215.31 604.23 215.12 605.23 214.92C606.23 214.72 607.23 214.52 608.23 214.32C609.23 214.12 610.23 213.92 611.23 213.71C612.23 213.51 613.23 213.30 614.23 213.10C615.23 212.89 616.23 212.69 617.23 212.49C618.23 212.29 619.23 212.09 620.23 211.89C621.23 211.70 622.24 211.51 623.24 211.32C624.24 211.13 625.24 210.95 626.24 210.77C627.24 210.59 628.24 210.42 629.24 210.25C630.24 210.08 631.24 209.92 632.24 209.76C633.24 209.60 634.24 209.44 635.24 209.29C636.24 209.14 637.24 208.99 638.24 208.85C639.24 208.70 640.24 208.56 641.24 208.43C642.24 208.29 643.24 208.16 644.24 208.04C645.24 207.91 646.24 207.78 647.24 207.66C648.25 207.54 649.25 207.43 650.25 207.32C651.25 207.20 652.25 207.10 653.25 206.99C654.25 206.89 655.25 206.78 656.25 206.69C657.25 206.59 658.25 206.49 659.25 206.40C660.25 206.31 661.25 206.22 662.25 206.14C663.25 206.05 664.25 205.97 665.25 205.89C666.25 205.81 667.25 205.74 668.25 205.66C669.25 205.59 670.25 205.52 671.25 205.45C672.25 205.39 673.25 205.32 674.26 205.26C675.26 205.20 676.26 205.14 677.26 205.09C678.26 205.03 679.26 204.98 680.26 204.93C681.26 204.87 682.26 204.83 683.26 204.78C684.26 204.73 685.26 204.69 686.26 204.65C687.26 204.61 688.26 204.57 689.26 204.53C690.26 204.49 691.26 204.46 692.26 204.43C693.26 204.39 694.26 204.36 695.26 204.33C696.26 204.30 697.26 204.28 698.26 204.25C699.26 204.23 700.27 204.20 701.27 204.18C702.27 204.16 703.27 204.14 704.27 204.12C705.27 204.10 706.27 204.08 707.27 204.07C708.27 204.05 709.27 204.04 710.27 204.03C711.27 204.01 712.27 204.00 713.27 203.99C714.27 203.99 715.27 203.98 716.27 203.97C717.27 203.97 718.27 203.96 719.27 203.96C720.27 203.96 721.27 203.96 722.27 203.95C723.27 203.95 724.27 203.95 725.27 203.95C726.28 203.95 727.28 203.96 728.28 203.96C729.28 203.96 730.28 203.96 731.28 203.96C732.28 203.97 733.28 203.97 734.28 203.97C735.28 203.97 736.28 203.98 737.28 203.98C738.28 203.98 739.28 203.98 740.28 203.99C741.28 203.99 742.28 203.99 743.28 203.99C744.28 203.99 745.28 203.99 746.28 204.00C747.28 204.00 748.28 204.00 749.28 204.00C750.28 204.00 751.28 204.00 752.29 204.00C753.29 204.00 754.29 204.00 755.29 204.00C756.29 204.00 757.29 204.00 758.29 204.00C759.29 204.00 760.29 204.00 761.29 204.00C762.29 204.00 763.29 204.00 764.29 204.00C765.29 204.00 766.29 204.00 767.29 204.00C768.29 204.00 769.29 204.00 770.29 204.00C771.29 204.00 772.29 204.00 773.29 204.00C774.29 204.00 775.29 204.00 776.29 204.00C777.29 204.00 778.30 204.00 779.30 204.00C780.30 204.00 781.30 204.00 782.30 204.00C783.30 204.00 784.30 204.00 785.30 204.00C786.30 204.00 787.30 204.00 788.30 204.00C789.30 204.00 790.80 204.00 791.30 204.00" stroke="#ff0000" stroke-width="4.1"/>
</g>
<g fill="none">
<path d="M192.1 309.5H240" stroke="#0000ff" stroke-width="3.1" stroke-dasharray="1.8 4.7"/>
<path d="M192.1 351.4H241" stroke="#ff00ff" stroke-width="3.0" stroke-dasharray="9.3 9.3"/>
<path d="M192 389.6H244.1" stroke="#ff0000" stroke-width="3.1"/>
</g>
<g class="tx">
<text transform="translate(269.60 318.00) scale(1.060 1.043)" font-size="29.40">L</text>
<text y="318.00" font-size="29.40" x="285.95">y</text>
<text class="it" x="299.40" y="318.00" font-size="32.00">α</text>
<text transform="translate(269.60 360.00) scale(1.060 1.043)" font-size="29.40">L</text>
<text y="360.00" font-size="29.40" x="285.95">y</text>
<text class="it" x="298.85" y="360.00" font-size="32.00">β</text>
<text transform="translate(269.60 398.20) scale(1.015 1.043)" font-size="29.40">H</text>
<text class="it" x="289.58" y="398.20" font-size="32.00">α</text>
<text y="531.50" font-size="36.60" x="130.18">0</text>
<text y="531.50" font-size="36.60" x="240.08 260.43 280.77">500</text>
<path fill="#000" d="M373.29 531.50 L370.14 531.50 L370.14 513.16 L363.85 513.16 L363.85 510.89 C367.32 510.78 369.89 509.39 371.13 505.55 L373.29 505.55 Z"/>
<text y="531.50" font-size="36.60" x="380.50 400.85 421.20">000</text>
<path fill="#000" d="M503.54 531.50 L500.39 531.50 L500.39 513.16 L494.10 513.16 L494.10 510.89 C497.57 510.78 500.14 509.39 501.38 505.55 L503.54 505.55 Z"/>
<text y="531.50" font-size="36.60" x="510.75 531.10 551.45">500</text>
<text y="531.50" font-size="36.60" x="620.65 641.00 661.35 681.70">2000</text>
<text y="531.50" font-size="36.60" x="750.90 771.25 791.60 811.95">2500</text>
<text transform="translate(369.80 584.60) scale(1.015 1.043)" font-size="36.60">H</text>
<text y="584.60" font-size="36.60" x="396.23 416.57 424.70 445.05 465.40">eight</text>
<text y="584.60" font-size="36.60" x="487.70 497.87 516.17">[km</text>
<text y="584.60" font-size="36.60" x="548.80">]</text>
<path fill="#000" d="M87.87 86.00 L84.73 86.00 L84.73 67.66 L78.43 67.66 L78.43 65.39 C81.91 65.28 84.47 63.89 85.72 60.05 L87.87 60.05 Z"/>
<text y="86.00" font-size="36.60" x="95.08">0</text>
<text y="65.00" font-size="22.60" x="114.83">0</text>
<path fill="#000" d="M80.35 166.00 L77.20 166.00 L77.20 147.66 L70.91 147.66 L70.91 145.39 C74.38 145.28 76.95 143.89 78.19 140.05 L80.35 140.05 Z"/>
<text y="166.00" font-size="36.60" x="87.56">0</text>
<path fill="#000" d="M122.95 145.00 L121.00 145.00 L121.00 133.68 L117.12 133.68 L117.12 132.28 C119.26 132.21 120.85 131.35 121.61 128.98 L122.95 128.98 Z"/>
<text y="145.00" font-size="22.60" x="107.31">-</text>
<path fill="#000" d="M80.35 246.00 L77.20 246.00 L77.20 227.66 L70.91 227.66 L70.91 225.39 C74.38 225.28 76.95 223.89 78.19 220.05 L80.35 220.05 Z"/>
<text y="246.00" font-size="36.60" x="87.56">0</text>
<text y="225.00" font-size="22.60" x="107.31 114.83">-2</text>
<path fill="#000" d="M80.35 326.00 L77.20 326.00 L77.20 307.66 L70.91 307.66 L70.91 305.39 C74.38 305.28 76.95 303.89 78.19 300.05 L80.35 300.05 Z"/>
<text y="326.00" font-size="36.60" x="87.56">0</text>
<text y="305.00" font-size="22.60" x="107.31 114.83">-3</text>
<path fill="#000" d="M80.35 406.00 L77.20 406.00 L77.20 387.66 L70.91 387.66 L70.91 385.39 C74.38 385.28 76.95 383.89 78.19 380.05 L80.35 380.05 Z"/>
<text y="406.00" font-size="36.60" x="87.56">0</text>
<text y="385.00" font-size="22.60" x="107.31 114.83">-4</text>
<path fill="#000" d="M80.35 469.90 L77.20 469.90 L77.20 451.56 L70.91 451.56 L70.91 449.29 C74.38 449.18 76.95 447.79 78.19 443.95 L80.35 443.95 Z"/>
<text y="469.90" font-size="36.60" x="87.56">0</text>
<text y="448.90" font-size="22.60" x="107.31 114.83">-5</text>
<g transform="translate(30.1 301.1) rotate(-90)">
<text transform="translate(0.00 0.00) scale(1.000 1.043)" font-size="36.60">S</text>
<text transform="translate(23.65 11.00) scale(1.060 1.043)" font-size="23.10">L</text>
<text y="0.00" font-size="36.60" x="36.30">/</text>
<text transform="translate(46.70 0.00) scale(1.035 1.043)" font-size="36.60">B</text>
<text stroke="#000" stroke-width="0.25" y="13.70" font-size="9.90" x="81.20">0</text>
</g>
<g fill="none" stroke="#000" stroke-linecap="round" stroke-linejoin="round">
<path d="M32.5 230.4Q30.4 228.9 29.9 227.2Q30.4 226.3 32.1 226.6L40.3 228.4" stroke-width="1.6"/>
<path d="M40.3 228.4Q37 223.5 33.3 221.8Q32 221.3 31 221.3" stroke-width="1.1"/>
<ellipse cx="31.0" cy="221.6" rx="1.6" ry="0.95" fill="#000" stroke="none"/>
</g>
</g>
</svg>
</body></html>
